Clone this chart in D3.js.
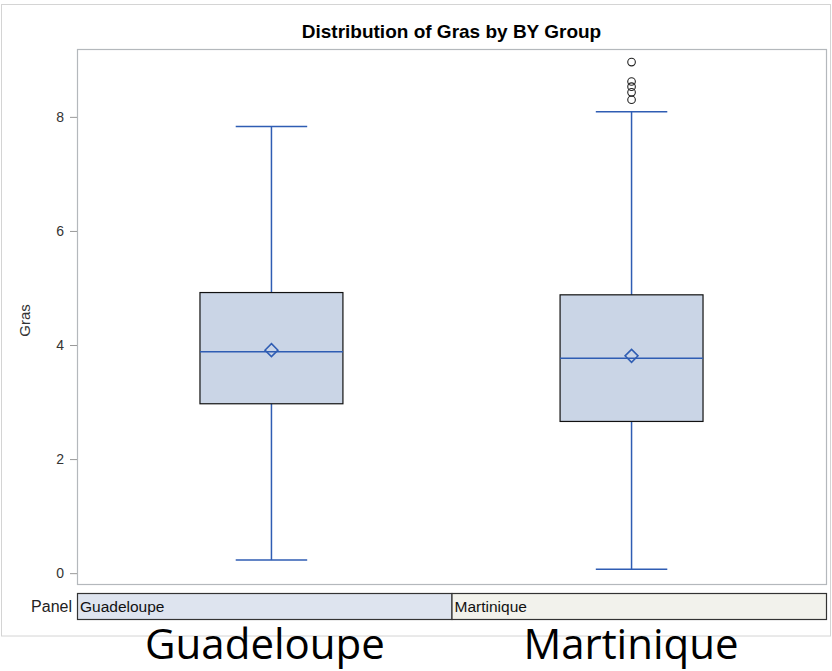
<!DOCTYPE html>
<html>
<head>
<meta charset="utf-8">
<script src="https://cdn.jsdelivr.net/npm/d3@7"></script>
<style>
  body { margin: 0; background: #fff; }
  svg { display: block; }
  .tick text { font-family: "Liberation Sans", Arial, sans-serif; font-size: 14px; fill: #333; }
</style>
</head>
<body>
<svg id="chart" width="832" height="671"></svg>
<script>
const groups = ['Guadeloupe', 'Martinique'];
const whiskerLow = [0.23, 0.07];
const q1 = [2.97, 2.66];
const median = [3.88, 3.77];
const q3 = [4.92, 4.88];
const whiskerHigh = [7.83, 8.09];
const mean = [3.91, 3.81];
const outliers = [[], [8.96, 8.62, 8.53, 8.43, 8.30]];
const yTicks = [0, 2, 4, 6, 8];

const blue = '#2f5db3';
const font = '"Liberation Sans", Arial, sans-serif';
const svg = d3.select('#chart');

const plot = { left: 77, right: 826, top: 49, bottom: 584 };

const x = d3.scalePoint().domain(groups).range([plot.left, plot.right]).padding(0.54);
const strip = d3.scaleBand().domain(groups).range([plot.left, plot.right]);
const y = d3.scaleLinear().domain([-0.19, 9.19]).range([plot.bottom, plot.top]);

const boxW = x.step() * 0.397;
const capW = boxW / 2;

// outer frame
svg.append('rect')
  .attr('x', 1.5).attr('y', 4.5)
  .attr('width', 829).attr('height', 631.5)
  .attr('fill', 'none').attr('stroke', '#d4d4d4');

svg.append('text')
  .attr('x', (plot.left + plot.right) / 2).attr('y', 38)
  .attr('text-anchor', 'middle')
  .style('font-family', font)
  .style('font-size', '19px').style('font-weight', 'bold')
  .text('Distribution of Gras by BY Group');

// plot frame
svg.append('rect')
  .attr('x', plot.left + 0.5).attr('y', plot.top + 0.5)
  .attr('width', plot.right - plot.left).attr('height', plot.bottom - plot.top)
  .attr('fill', 'none').attr('stroke', '#b4b8bc').attr('stroke-width', 1.2);

const yAxis = svg.append('g')
  .attr('transform', `translate(${plot.left},0)`)
  .call(d3.axisLeft(y).tickValues(yTicks).tickSize(7).tickPadding(6));
yAxis.select('.domain').remove();
yAxis.selectAll('.tick line').attr('stroke', '#999');

svg.append('text')
  .attr('transform', `translate(30,${(plot.top + plot.bottom) / 2 + 4}) rotate(-90)`)
  .attr('text-anchor', 'middle')
  .style('font-family', font)
  .style('font-size', '15px').style('fill', '#333')
  .text('Gras');

const box = svg.selectAll('g.box')
  .data(groups)
  .enter()
  .append('g')
  .attr('class', 'box');

box.append('line')
  .attr('x1', (d) => x(d)).attr('x2', (d) => x(d))
  .attr('y1', (d, i) => y(whiskerHigh[i])).attr('y2', (d, i) => y(q3[i]))
  .attr('stroke', blue).attr('stroke-width', 1.5);
box.append('line')
  .attr('x1', (d) => x(d)).attr('x2', (d) => x(d))
  .attr('y1', (d, i) => y(q1[i])).attr('y2', (d, i) => y(whiskerLow[i]))
  .attr('stroke', blue).attr('stroke-width', 1.5);
[whiskerHigh, whiskerLow].forEach((arr) => {
  box.append('line')
    .attr('x1', (d) => x(d) - capW / 2).attr('x2', (d) => x(d) + capW / 2)
    .attr('y1', (d, i) => y(arr[i])).attr('y2', (d, i) => y(arr[i]))
    .attr('stroke', blue).attr('stroke-width', 1.5);
});

box.append('rect')
  .attr('x', (d) => x(d) - boxW / 2)
  .attr('y', (d, i) => y(q3[i]))
  .attr('width', boxW)
  .attr('height', (d, i) => y(q1[i]) - y(q3[i]))
  .attr('fill', '#cad5e6').attr('stroke', '#111').attr('stroke-width', 1.2);

box.append('line')
  .attr('x1', (d) => x(d) - boxW / 2).attr('x2', (d) => x(d) + boxW / 2)
  .attr('y1', (d, i) => y(median[i])).attr('y2', (d, i) => y(median[i]))
  .attr('stroke', blue).attr('stroke-width', 1.5);

box.append('path')
  .attr('d', (d, i) => {
    const cx = x(d), cy = y(mean[i]), r = 6.5;
    return `M${cx},${cy - r}L${cx + r},${cy}L${cx},${cy + r}L${cx - r},${cy}Z`;
  })
  .attr('fill', 'none').attr('stroke', blue).attr('stroke-width', 1.5);

box.each(function (d, i) {
  d3.select(this).selectAll('circle')
    .data(outliers[i])
    .enter()
    .append('circle')
    .attr('cx', x(d)).attr('cy', (v) => y(v)).attr('r', 3.8)
    .attr('fill', 'none').attr('stroke', '#222').attr('stroke-width', 1.1);
});

// panel strip
const stripTop = 593, stripH = 26;
const stripFill = ['#dee4ef', '#f2f2ec'];
svg.selectAll('rect.strip')
  .data(groups)
  .enter()
  .append('rect')
  .attr('class', 'strip')
  .attr('x', (d) => strip(d) + 0.5).attr('y', stripTop + 0.5)
  .attr('width', strip.bandwidth()).attr('height', stripH)
  .attr('fill', (d, i) => stripFill[i]).attr('stroke', '#333').attr('stroke-width', 1.2);
svg.selectAll('text.strip')
  .data(groups)
  .enter()
  .append('text')
  .attr('class', 'strip')
  .attr('x', (d) => strip(d) + 3).attr('y', stripTop + 18.5)
  .style('font-family', font)
  .style('font-size', '15.5px').style('fill', '#111')
  .text((d) => d);
svg.append('text')
  .attr('x', plot.left - 5).attr('y', stripTop + 18.5)
  .attr('text-anchor', 'end')
  .style('font-family', font)
  .style('font-size', '16px').style('fill', '#222')
  .text('Panel');

// big labels below
const bigX = [265, 631];
svg.selectAll('text.big')
  .data(groups)
  .enter()
  .append('text')
  .attr('class', 'big')
  .attr('x', (d, i) => bigX[i]).attr('y', 659)
  .attr('text-anchor', 'middle')
  .style('font-family', '"Open Sans", sans-serif')
  .style('font-size', '42px').style('fill', '#000')
  .text((d) => d);
</script>
</body>
</html>
